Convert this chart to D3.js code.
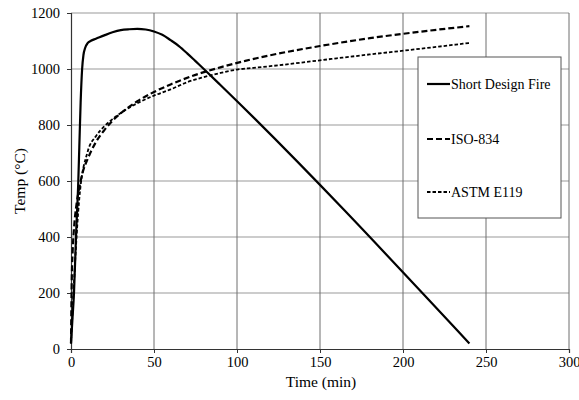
<!DOCTYPE html>
<html>
<head>
<meta charset="utf-8">
<script src="https://cdn.jsdelivr.net/npm/d3@7"></script>
<style>
  html, body { margin: 0; padding: 0; background: #fff; }
  svg { display: block; font-family: "Liberation Serif", "Times New Roman", serif; }
</style>
</head>
<body>
<svg id="chart" width="579" height="400"></svg>
<script>
// ---- Data ----
const xTicks = [0, 50, 100, 150, 200, 250, 300];
const yTicks = [0, 200, 400, 600, 800, 1000, 1200];

const designTime = [0, 0.8, 1.8, 3, 4.4, 5, 5.8, 6.7, 7.5, 8.5, 10, 12, 15, 20, 25, 30, 35, 40, 45, 50, 55, 60, 65, 70, 75, 80, 90, 240];
const designTemp = [20, 100, 200, 400, 600, 720, 880, 1000, 1050, 1075, 1092, 1101, 1108, 1120, 1131, 1139, 1142, 1143, 1141, 1134, 1122, 1103, 1082, 1056, 1028, 1000, 943, 20];

const isoTime = [0, 0.5, 1, 2, 3, 5, 7.5, 10, 15, 20, 25, 30, 40, 50, 60, 75, 90, 105, 120, 150, 180, 210, 240];
const isoTemp = [20, 261, 349, 445, 502, 576, 640, 678, 739, 781, 815, 842, 885, 918, 945, 979, 1006, 1029, 1049, 1082, 1110, 1133, 1153];

const astmTime = [0, 5, 10, 15, 20, 25, 30, 40, 50, 60, 70, 80, 90, 100, 110, 120, 150, 180, 210, 240];
const astmTemp = [20, 538, 704, 760, 795, 821, 843, 878, 905, 927, 953, 971, 986, 998, 1004, 1010, 1031, 1052, 1072, 1093];

const seriesNames = ["Short Design Fire", "ISO-834", "ASTM E119"];

// ---- Chart ----
const svg = d3.select("#chart");
const x = d3.scaleLinear().domain([0, 300]).range([71, 569]);
const y = d3.scaleLinear().domain([0, 1200]).range([349, 13]);

const serif = "'Liberation Serif', 'Times New Roman', serif";

// Gridlines
const g = svg.append("g");
g.selectAll("line.hg").data(yTicks.filter(d => d > 0)).join("line")
  .attr("x1", x(0)).attr("x2", x(300))
  .attr("y1", d => y(d)).attr("y2", d => y(d))
  .attr("stroke", "#9a9a9a").attr("stroke-width", 1.2);
g.selectAll("line.vg").data(xTicks.filter(d => d > 0)).join("line")
  .attr("x1", d => x(d)).attr("x2", d => x(d))
  .attr("y1", y(0)).attr("y2", y(1200))
  .attr("stroke", "#6e6e6e").attr("stroke-width", 1);

// Axes
const xAxis = d3.axisBottom(x).tickValues(xTicks).tickSize(4).tickPadding(4).tickFormat(d3.format("d"));
const yAxis = d3.axisLeft(y).tickValues(yTicks).tickSize(4).tickPadding(7).tickFormat(d3.format("d"));

const gx = svg.append("g").attr("transform", `translate(0,${y(0)})`).call(xAxis);
const gy = svg.append("g").attr("transform", `translate(${x(0)},0)`).call(yAxis);
[gx, gy].forEach(a => {
  a.select(".domain").attr("stroke", "#333").attr("stroke-width", 1.2);
  a.selectAll(".tick line").attr("stroke", "#333");
  a.selectAll(".tick text").attr("fill", "#000").style("font-size", "14.5px")
    .style("font-family", serif);
});

// Axis titles
svg.append("text").attr("x", 321).attr("y", 387).attr("text-anchor", "middle")
  .style("font-size", "15.5px").attr("fill", "#000").text("Time (min)");
svg.append("text").attr("transform", `translate(25,${(y(0) + y(1200)) / 2}) rotate(-90)`)
  .attr("text-anchor", "middle").style("font-size", "15.5px").attr("fill", "#000").text("Temp (°C)");

// Lines
const line = d3.line().x(d => x(d[0])).y(d => y(d[1])).curve(d3.curveMonotoneX);
const styles = [
  { dash: null, width: 2.2 },
  { dash: "6,3", width: 2.2 },
  { dash: "3.5,2", width: 1.8 }
];
const series = [
  designTime.map((t, i) => [t, designTemp[i]]),
  isoTime.map((t, i) => [t, isoTemp[i]]),
  astmTime.map((t, i) => [t, astmTemp[i]])
];
series.forEach((s, i) => {
  svg.append("path").datum(s).attr("d", line)
    .attr("fill", "none").attr("stroke", "#000")
    .attr("stroke-width", styles[i].width)
    .attr("stroke-dasharray", styles[i].dash);
});

// Legend
const lg = svg.append("g");
lg.append("rect").attr("x", 418).attr("y", 57).attr("width", 143).attr("height", 161)
  .attr("fill", "#fff").attr("stroke", "#555").attr("stroke-width", 1);
const legendY = [84, 139, 192];
seriesNames.forEach((name, i) => {
  lg.append("line").attr("x1", 427).attr("x2", 450)
    .attr("y1", legendY[i]).attr("y2", legendY[i])
    .attr("stroke", "#000").attr("stroke-width", styles[i].width)
    .attr("stroke-dasharray", styles[i].dash);
  lg.append("text").attr("x", 451).attr("y", legendY[i]).attr("dy", "0.35em")
    .style("font-size", "14px").attr("fill", "#000").text(name);
});
</script>
</body>
</html>
